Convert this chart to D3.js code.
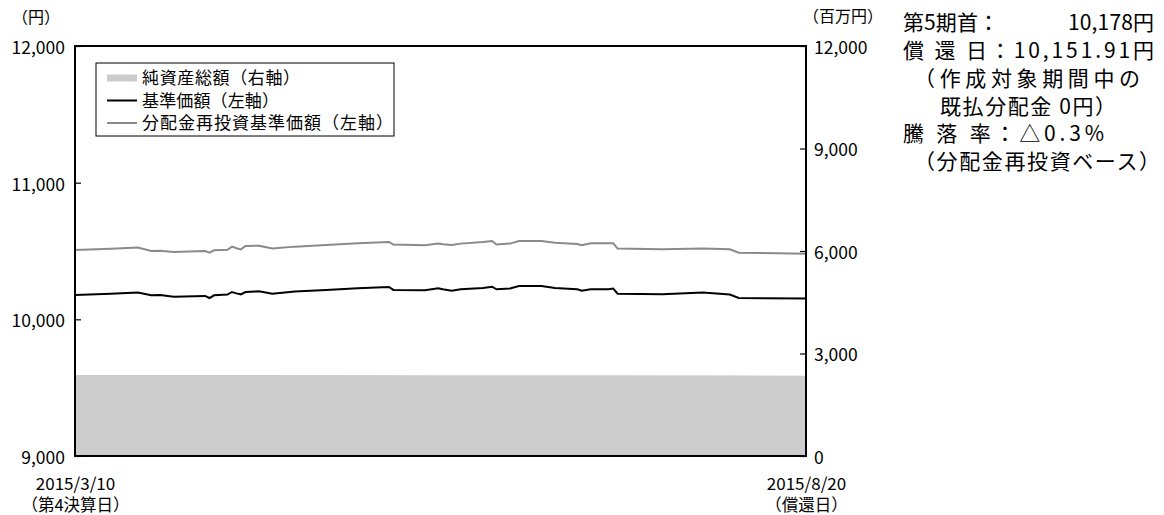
<!DOCTYPE html>
<html><head><meta charset="utf-8">
<script src="https://cdn.jsdelivr.net/npm/d3@7"></script>
<style>body{margin:0;background:#fff}svg{display:block}svg text{font-family:'Noto Sans CJK JP','Noto Sans',sans-serif}</style>
</head><body><svg id="c" width="1164" height="515"></svg>
<script>
// ---- data ----
const dates = ["2015-03-10","2015-03-18","2015-03-24","2015-03-27","2015-03-29","2015-04-01","2015-04-08","2015-04-09","2015-04-10","2015-04-13","2015-04-14","2015-04-15","2015-04-16","2015-04-17","2015-04-20","2015-04-23","2015-04-28","2015-05-05","2015-05-12","2015-05-19","2015-05-20","2015-05-27","2015-05-30","2015-05-31","2015-06-02","2015-06-04","2015-06-09","2015-06-11","2015-06-12","2015-06-15","2015-06-17","2015-06-22","2015-06-25","2015-06-30","2015-07-01","2015-07-03","2015-07-07","2015-07-08","2015-07-09","2015-07-19","2015-07-28","2015-08-03","2015-08-05","2015-08-20"];
const navBase = [10178,10188,10196,10176,10178,10166,10171,10156,10176,10181,10200,10190,10183,10200,10205,10188,10203,10215,10227,10237,10215,10212,10227,10220,10210,10220,10229,10239,10220,10225,10244,10244,10229,10220,10210,10220,10220,10225,10188,10183,10196,10181,10156,10152];
const navReinv = [10507,10516,10525,10500,10501,10493,10500,10488,10505,10509,10532,10520,10512,10537,10539,10518,10532,10544,10556,10566,10547,10542,10554,10549,10544,10554,10566,10573,10547,10554,10573,10573,10561,10551,10542,10556,10556,10556,10518,10512,10518,10512,10488,10480];
const assetDates = ["2015-03-10","2015-04-15","2015-06-01","2015-07-09","2015-08-20"];
const netAssets = [2372,2370,2367,2362,2352];
const leftTicks = [9000,10000,11000,12000];
const rightTicks = [0,3000,6000,9000,12000];
const xTickDates = ["2015-03-10","2015-08-20"];
const xSubLabels = ["（第4決算日）","（償還日）"];
const legendLabels = ["純資産総額（右軸）","基準価額（左軸）","分配金再投資基準価額（左軸）"];
const leftUnit = "（円）";
const rightUnit = "（百万円）";
const infoLines = ["第5期首：","10,178円","償 還 日：10,151.91円","（作成対象期間中の","既払分配金 0円）","騰 落 率：△0.3%","（分配金再投資ベース）"];

// ---- drawing ----
const parse = d3.timeParse("%Y-%m-%d");
const svg = d3.select("#c");
const L = 75, R = 806, T = 46, B = 456;
const x = d3.scaleTime().domain([parse(xTickDates[0]), parse(xTickDates[1])]).range([L, R]);
const yL = d3.scaleLinear().domain([9000, 12000]).range([B, T]);
const yR = d3.scaleLinear().domain([0, 12000]).range([B, T]);

const nav = dates.map((d, i) => ({d: parse(d), b: navBase[i], r: navReinv[i]}));
const assets = assetDates.map((d, i) => ({d: parse(d), v: netAssets[i]}));

svg.append("path").datum(assets)
  .attr("fill", "#cccccc")
  .attr("d", d3.area().x(d => x(d.d)).y0(yR(0)).y1(d => yR(d.v)));

svg.append("path").datum(nav)
  .attr("fill", "none").attr("stroke", "#8a8a8a").attr("stroke-width", 2)
  .attr("d", d3.line().x(d => x(d.d)).y(d => yL(d.r)));
svg.append("path").datum(nav)
  .attr("fill", "none").attr("stroke", "#000").attr("stroke-width", 2)
  .attr("d", d3.line().x(d => x(d.d)).y(d => yL(d.b)));

// axes
const fmt = d3.format(",");
const gl = svg.append("g").attr("transform", `translate(${L},0)`)
  .call(d3.axisLeft(yL).tickValues(leftTicks).tickSize(-6).tickPadding(10).tickFormat(fmt));
const gr = svg.append("g").attr("transform", `translate(${R},0)`)
  .call(d3.axisRight(yR).tickValues(rightTicks).tickSize(-6).tickPadding(8).tickFormat(fmt));
[gl, gr].forEach(g => {
  g.attr("font-family", null);
  g.select(".domain").remove();
  g.selectAll("line").attr("stroke", "#000").attr("stroke-width", 1.2);
  g.selectAll("text").attr("font-size", 17.5).attr("fill", "#000").attr("dy", "0.42em");
});

// frame
svg.append("rect").attr("x", L).attr("y", T).attr("width", R - L).attr("height", B - T)
  .attr("fill", "none").attr("stroke", "#000").attr("stroke-width", 2);

// x labels
const gx = svg.append("g").attr("transform", `translate(0,${B})`)
  .call(d3.axisBottom(x).tickValues(xTickDates.map(parse)).tickSize(0).tickPadding(0)
    .tickFormat(d3.timeFormat("%Y/%-m/%-d")));
gx.attr("font-family", null);
gx.select(".domain").remove();
gx.selectAll("text").attr("font-size", 17).attr("fill", "#000").attr("y", 28).attr("dy", "0.36em");
gx.selectAll(".tick").append("text")
  .attr("y", 49).attr("dy", "0.36em").attr("font-size", 16.5).attr("fill", "#000")
  .attr("text-anchor", "middle")
  .text((d, i) => xSubLabels[i]);

// units
svg.append("text").attr("x", 36).attr("y", 17).attr("dy", "0.36em").attr("text-anchor", "middle")
  .attr("font-size", 16).text(leftUnit);
svg.append("text").attr("x", 843).attr("y", 16).attr("dy", "0.36em").attr("text-anchor", "middle")
  .attr("font-size", 16).text(rightUnit);

// legend
const lg = svg.append("g");
lg.append("rect").attr("x", 96).attr("y", 63).attr("width", 298).attr("height", 73)
  .attr("fill", "#fff").attr("stroke", "#000").attr("stroke-width", 1);
const rowsY = [78, 100.5, 123];
lg.append("rect").attr("x", 107).attr("y", rowsY[0] - 3.5).attr("width", 30).attr("height", 7).attr("fill", "#cccccc");
lg.append("line").attr("x1", 107).attr("x2", 137).attr("y1", rowsY[1]).attr("y2", rowsY[1]).attr("stroke", "#000").attr("stroke-width", 2);
lg.append("line").attr("x1", 107).attr("x2", 137).attr("y1", rowsY[2]).attr("y2", rowsY[2]).attr("stroke", "#8a8a8a").attr("stroke-width", 2);
lg.selectAll("text.lt").data(legendLabels).join("text").attr("class", "lt")
  .attr("x", 142).attr("y", (d, i) => rowsY[i]).attr("dy", "0.36em")
  .attr("font-size", 17).attr("textLength", (d, i) => [158, 137, 251][i]).attr("lengthAdjust", "spacing")
  .text(d => d);

// info block
const info = [
  {t: infoLines[0], x: 903, y: 22, len: 96},
  {t: infoLines[1], x: 1068, y: 22, len: 86},
  {t: infoLines[2], x: 903, y: 50, len: 251},
  {t: infoLines[3], x: 914, y: 78, len: 226},
  {t: infoLines[4], x: 940, y: 106, len: 176},
  {t: infoLines[5], x: 903, y: 133, len: 201},
  {t: infoLines[6], x: 914, y: 161, len: 246}
];
svg.selectAll("text.info").data(info).join("text").attr("class", "info")
  .attr("x", d => d.x).attr("y", d => d.y).attr("dy", "0.36em")
  .attr("font-size", 21).attr("textLength", d => d.len).attr("lengthAdjust", "spacing")
  .text(d => d.t);
</script></body></html>
